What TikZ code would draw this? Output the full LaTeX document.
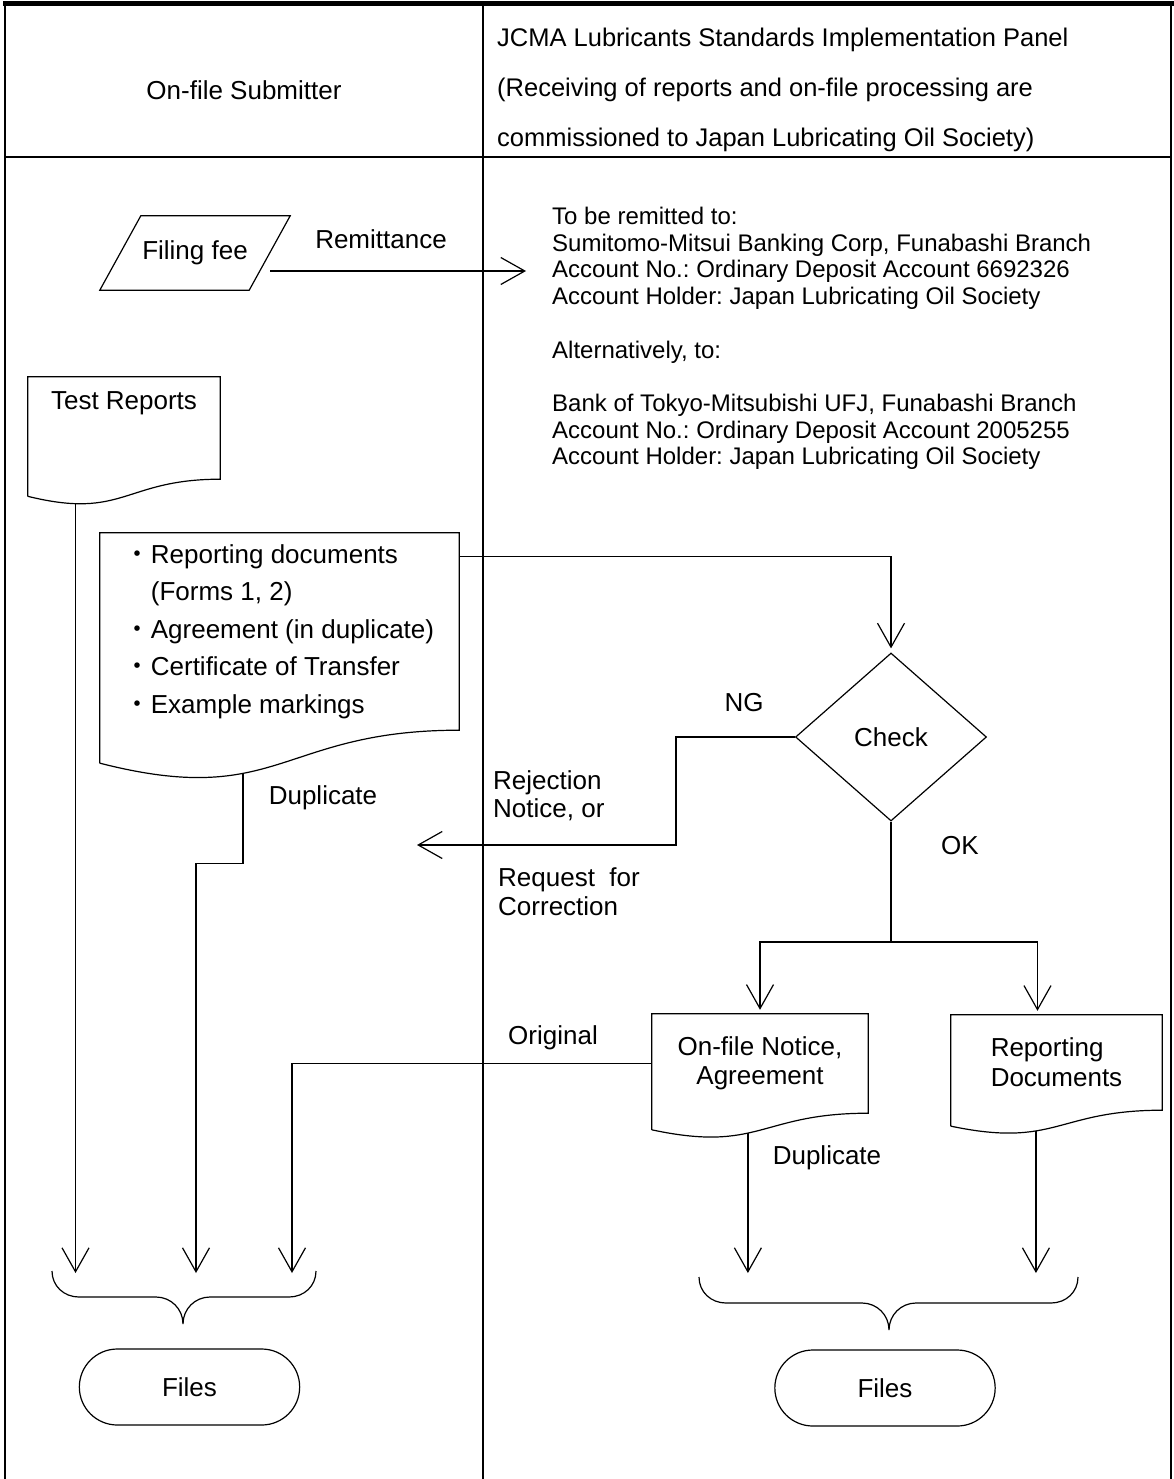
\documentclass[tikz,border=0pt]{standalone}
\usepackage{fontspec}
\setmainfont{Liberation Sans}
\newfontfamily\cjkfont{Noto Sans CJK JP}
\usetikzlibrary{shapes.geometric, shapes.misc, arrows.meta, positioning, calc}
\frenchspacing

\begin{document}
\begin{tikzpicture}[
  x=1pt, y=-1pt,
  font=\fontsize{26pt}{30pt}\selectfont,
  lane/.style={line width=2.5pt},
  box/.style={draw, line width=1.2pt},
  docu/.style={inner sep=0pt, align=center},
  flow/.style={line width=1.2pt},
  arr/.style={line width=1.2pt, -{Straight Barb[length=24pt, width=27pt]}},
  txt/.style={inner sep=0pt, align=left},
]
\useasboundingbox (0,0) rectangle (1174,1479);

% Lanes
\draw[line width=5pt] (3,4) -- (1174,4);
\draw[lane] (5,2) -- (5,1479);
\draw[lane] (483,2) -- (483,1479);
\draw[lane] (1171,2) -- (1171,1479);
\draw[lane] (5,157) -- (1171,157);
\node[txt] (submitter) at (244,90) {On-file Submitter};
\node[txt, anchor=west, font=\fontsize{25.5pt}{50pt}\selectfont] (panel) at (497,90)
  {JCMA Lubricants Standards Implementation Panel\\(Receiving of reports and on-file processing are\\commissioned to Japan Lubricating Oil Society)};

% Filing fee and bank accounts
\node[inner sep=0pt, minimum width=150pt, minimum height=74pt] (fee) at (195,253) {Filing fee};
\draw[flow] ($(fee.south west)+(-20,0)$) -- ($(fee.north west)+(21,0)$) -- ($(fee.north east)+(20,0)$) -- ($(fee.south east)+(-21,0)$) -- cycle;
\coordinate (remit) at (526,271);
\draw[arr] (fee.east |- remit) -- (remit);
\node (remitlbl) at (381,239) {Remittance};
\node[txt, anchor=north west, font=\fontsize{24pt}{26.7pt}\selectfont] (bank) at (552,207)
  {To be remitted to:\\Sumitomo-Mitsui Banking Corp, Funabashi Branch\\Account No.: Ordinary Deposit Account 6692326\\Account Holder: Japan Lubricating Oil Society\\[26.7pt]Alternatively, to:\\[26.7pt]Bank of Tokyo-Mitsubishi UFJ, Funabashi Branch\\Account No.: Ordinary Deposit Account 2005255\\Account Holder: Japan Lubricating Oil Society};

% Documents
\node[docu, minimum width=192pt, text height=32pt, text depth=70pt] (test) at (124,428) {Test Reports};
\node[docu, align=left, minimum width=359pt, minimum height=197pt, font=\fontsize{26pt}{37.5pt}\selectfont] (report) at (279.5,631.5)
  {{\cjkfont ・}Reporting documents\\\hspace*{1em}(Forms 1, 2)\\{\cjkfont ・}Agreement (in duplicate)\\{\cjkfont ・}Certificate of Transfer\\{\cjkfont ・}Example markings};
\node[docu, minimum width=216pt, minimum height=99pt, font=\fontsize{26pt}{29.5pt}\selectfont] (notice) at (760,1063.5) {On-file Notice,\\Agreement};
\node[docu, align=left, minimum width=211pt, minimum height=95pt, font=\fontsize{26pt}{30pt}\selectfont] (docs) at (1056.5,1062.5) {Reporting\\Documents};
\foreach \d/\p in {test/0.8, report/0.632, notice/0.574, docs/0.627}{
  \draw[flow] ($(\d.south west)!-0.167!(\d.north west)$) -- (\d.north west) -- (\d.north east) -- (\d.south east)
    .. controls (\d.south) and ($(\d.south)!-0.4!(\d.north)$) .. coordinate[pos=\p] (\d-out) ($(\d.south west)!-0.167!(\d.north west)$);
}

% Check
\node[box, diamond, minimum width=191pt, minimum height=168pt, inner sep=0pt] (check) at (891,737) {Check};
\draw[arr, shorten >=4pt] ($(report.north east)!0.12!(report.south east)$) -| (check.north);
\coordinate (rej) at (417,845);
\draw[arr] (check.west) -- ++(-119,0) |- (rej);
\node (ng) at (744,703) {NG};
\node[txt, anchor=west, font=\fontsize{26pt}{28pt}\selectfont] (rejlbl) at (493,796) {Rejection\\Notice, or};
\node[txt, anchor=west, font=\fontsize{26pt}{29pt}\selectfont] (reqlbl) at (498,892) {Request~ for\\Correction};
\coordinate (split) at (891,942);
\draw[arr, shorten >=4pt] (check.south) -- (split) -| (notice.north);
\draw[arr, shorten >=4pt] (split) -| ($(docs.north west)!0.41!(docs.north east)$);
\node (ok) at (960,846) {OK};

% To the files
\coordinate (lend) at (0,1273);
\coordinate (dupL) at (196,1273);
\coordinate (origL) at (292,1273);
\draw[arr] (test-out) -- (test-out |- lend);
\draw[arr] (report-out) -- ++(0,90) -| (dupL);
\draw[arr] (notice.west) -| (origL);
\draw[arr] (notice-out) -- (notice-out |- lend);
\draw[arr] (docs-out) -- (docs-out |- lend);
\node (dup1) at (323,798) {Duplicate};
\node (orig) at (553,1038) {Original};
\node (dup2) at (827,1158) {Duplicate};

% Braces and files
\foreach \l/\m/\r/\t in {52/183/316/1271, 699/889/1078/1277}{
  \draw[flow] (\l,\t) .. controls (\l,\t+15) and (\l+12,\t+26) .. (\l+27,\t+26) -- (\m-27,\t+26)
    .. controls (\m-12,\t+26) and (\m,\t+38) .. (\m,\t+53) .. controls (\m,\t+38) and (\m+12,\t+26) .. (\m+27,\t+26)
    -- (\r-27,\t+26) .. controls (\r-12,\t+26) and (\r,\t+15) .. (\r,\t);
}
\node[box, rounded rectangle, minimum width=227pt, minimum height=76pt] (files1) at (189.5,1387) {Files};
\node[box, rounded rectangle, minimum width=227pt, minimum height=76pt] (files2) at (885,1388) {Files};
\end{tikzpicture}
\end{document}
